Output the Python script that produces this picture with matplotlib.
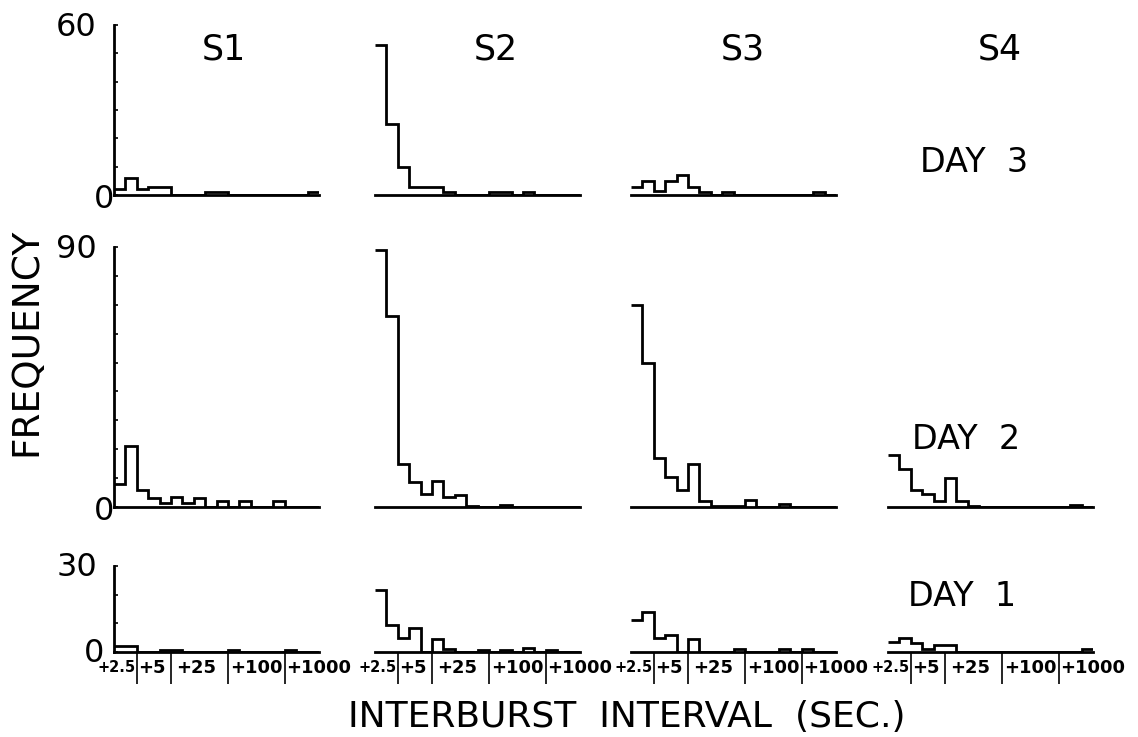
import matplotlib
matplotlib.use("Agg")
import matplotlib.pyplot as plt
import numpy as np

# ---------------- data ----------------
subjects = ["S1", "S2", "S3", "S4"]
days = ["DAY  3", "DAY  2", "DAY  1"]
y_max = [60, 90, 30]
n_bins = 18
bin_edges = np.arange(n_bins + 1)

s1_day3 = [2, 6, 2, 3, 3, 0, 0, 0, 1, 1, 0, 0, 0, 0, 0, 0, 0, 1]
s2_day3 = [53, 25, 10, 3, 3, 3, 1, 0, 0, 0, 1, 1, 0, 1, 0, 0, 0, 0]
s3_day3 = [3, 5, 1.5, 5, 7, 3, 1, 0, 1, 0, 0, 0, 0, 0, 0, 0, 1, 0]
s4_day3 = None

s1_day2 = [8, 21, 6, 3, 1.5, 3.5, 1.5, 3, 0, 2, 0, 2, 0, 0, 2, 0, 0, 0]
s2_day2 = [89, 66, 15, 8.5, 4.5, 9, 3.5, 4, 0.5, 0, 0, 0.8, 0, 0, 0, 0, 0, 0]
s3_day2 = [70, 50, 17, 10.5, 6, 15, 2, 0.5, 0.5, 0.5, 2.5, 0, 0, 1.2, 0, 0, 0, 0]
s4_day2 = [18, 13, 6, 4.5, 2, 10, 2, 0.5, 0, 0, 0, 0, 0, 0, 0, 0, 0.6, 0]

s1_day1 = [2, 2, 0, 0, 0.7, 0.7, 0, 0, 0, 0, 0.7, 0, 0, 0, 0, 0.7, 0, 0]
s2_day1 = [21.5, 9.5, 5, 8.5, 0, 4.5, 1, 0, 0, 0.6, 0, 0.6, 0, 1.5, 0, 0.6, 0, 0]
s3_day1 = [11, 14, 5, 6, 0, 4.5, 0, 0, 0, 1.2, 0, 0, 0, 1.2, 0, 1.2, 0, 0]
s4_day1 = [3.5, 5, 3, 1, 2.5, 2.5, 0, 0, 0, 0, 0, 0, 0, 0, 0, 0, 0, 1]

rows = [
    [s1_day3, s2_day3, s3_day3, s4_day3],
    [s1_day2, s2_day2, s3_day2, s4_day2],
    [s1_day1, s2_day1, s3_day1, s4_day1],
]

x_tick_bins = [2, 5, 10, 15]
x_labels = ["+2.5", "+5", "+25", "+100", "+1000"]
x_label_bins = [2, 2, 5, 10, 15]
x_label_ha = ["right", "left", "left", "left", "left"]
x_label_dx = [-1, 1, 5, 2, 1]
x_label_size = [10.5, 13, 13, 13, 13]

# ---------------- layout (pixels) ----------------
W, H = 1138, 737
fig = plt.figure(figsize=(W / 100, H / 100), dpi=100)
plt.rcParams["font.family"] = ["DejaVu Sans"]

col_left = [114, 375, 631, 888]
panel_w = 205
row_top = [25, 247, 566]
row_base = [195, 507, 652]

LW = 2.0


def px_rect(left, top, width, height):
    return [left / W, 1 - (top + height) / H, width / W, height / H]


zero_off = [(0, -5), (0, -5), (-10, -2)]
for r, row in enumerate(rows):
    for c, vals in enumerate(row):
        if vals is None:
            continue
        ax = fig.add_axes(px_rect(col_left[c], row_top[r], panel_w,
                                  row_base[r] - row_top[r]))
        ax.set_xlim(0, n_bins)
        ax.set_ylim(0, y_max[r])
        ax.stairs(vals, bin_edges, baseline=None, color="black", lw=LW)
        for s in ["top", "right"]:
            ax.spines[s].set_visible(False)
        ax.spines["bottom"].set_linewidth(LW)
        ax.spines["left"].set_linewidth(LW)
        ax.set_facecolor("none")
        if c == 0:
            ax.set_yticks(np.arange(0, y_max[r] + 1, 10))
            ax.set_yticklabels([])
            ax.tick_params(axis="y", direction="in", length=3, width=1.2)
            ax.annotate(str(y_max[r]), xy=(0, y_max[r]),
                        xycoords=("axes fraction", "data"),
                        xytext=(-17, -2), textcoords="offset pixels",
                        ha="right", va="center", fontsize=23)
            ax.annotate("0", xy=(0, 0), xycoords=("axes fraction", "data"),
                        xytext=zero_off[r], textcoords="offset pixels",
                        ha="right", va="center", fontsize=23)
        else:
            ax.spines["left"].set_visible(False)
            ax.set_yticks([])
        if r == 2:
            ax.set_xticks(x_tick_bins)
            ax.set_xticklabels([])
            ax.tick_params(axis="x", direction="out", length=23, width=1.2)
            for lab, xb, ha, dx, fs in zip(x_labels, x_label_bins, x_label_ha,
                                           x_label_dx, x_label_size):
                ax.annotate(lab, xy=(xb, 0), xycoords="data",
                            xytext=(dx, -16), textcoords="offset pixels",
                            ha=ha, va="center", fontsize=fs,
                            fontweight="bold")
        else:
            ax.set_xticks([])


def ftext(x, y, s, **kw):
    fig.text(x / W, 1 - y / H, s, **kw)


title_x = [224, 496, 743, 1000]
for name, x in zip(subjects, title_x):
    ftext(x, 50, name, ha="center", va="center", fontsize=25)

day_pos = [(974, 163), (966, 440), (962, 597)]
for d, (x, y) in zip(days, day_pos):
    ftext(x, y, d, ha="center", va="center", fontsize=24)

ftext(26, 342, "FREQUENCY", rotation=90, ha="center", va="center", fontsize=27)
ftext(627, 717, "INTERBURST  INTERVAL  (SEC.)", ha="center", va="center",
      fontsize=26)

fig.savefig("out.png", dpi=100)
